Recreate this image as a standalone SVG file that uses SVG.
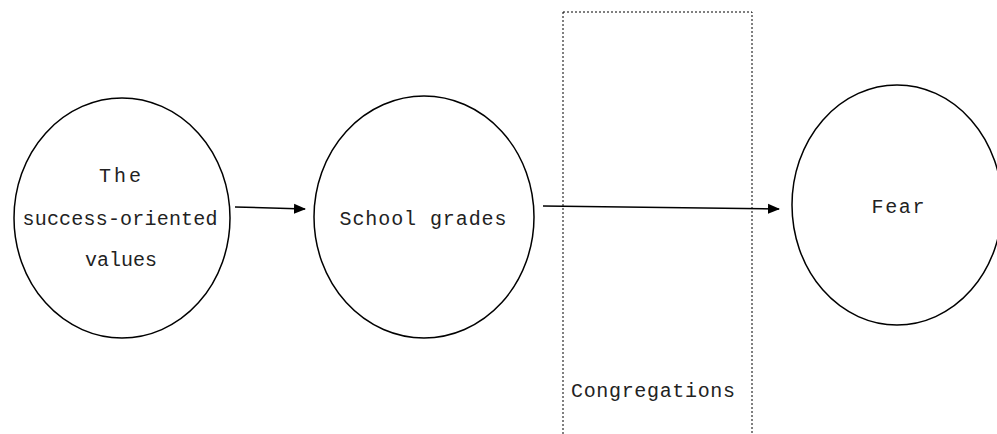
<svg xmlns="http://www.w3.org/2000/svg" width="997" height="434" viewBox="0 0 997 434">
<style>
.n{fill:#fff;stroke:#000;stroke-width:1.5}
.t{font-family:"Liberation Mono","DejaVu Sans Mono",monospace;font-size:20px;fill:#222;text-anchor:middle}
.c{stroke:#000;stroke-width:1.5;fill:none}
</style>
<defs>
<marker id="ah" markerWidth="12" markerHeight="12" refX="11" refY="6" orient="auto" markerUnits="userSpaceOnUse" viewBox="0 0 12 12">
<path d="M0,1 L12,6 L0,11 z" fill="#000"/>
</marker>
</defs>
<g id="congregations">
<rect x="563" y="12" width="189" height="430" fill="none" stroke="#000" stroke-width="1" stroke-dasharray="2,2"/>
<text class="t" x="653" y="397" textLength="164" lengthAdjust="spacing">Congregations</text>
</g>
<g id="connectors">
<line class="c" x1="235" y1="207" x2="305" y2="209" marker-end="url(#ah)"/>
<line class="c" x1="543" y1="206" x2="779" y2="209" marker-end="url(#ah)"/>
</g>
<g id="values">
<ellipse class="n" cx="122" cy="218" rx="108" ry="120"/>
<text class="t" x="120" y="182" textLength="42" lengthAdjust="spacing">The</text>
<text class="t" x="120" y="225" textLength="195" lengthAdjust="spacing">success-oriented</text>
<text class="t" x="121" y="266" textLength="72" lengthAdjust="spacing">values</text>
</g>
<g id="grades">
<ellipse class="n" cx="424" cy="217" rx="110" ry="121"/>
<text class="t" x="423" y="225" textLength="167" lengthAdjust="spacing">School grades</text>
</g>
<g id="fear">
<ellipse class="n" cx="897" cy="205" rx="105" ry="120"/>
<text class="t" x="898" y="213" textLength="53" lengthAdjust="spacing">Fear</text>
</g>
</svg>
